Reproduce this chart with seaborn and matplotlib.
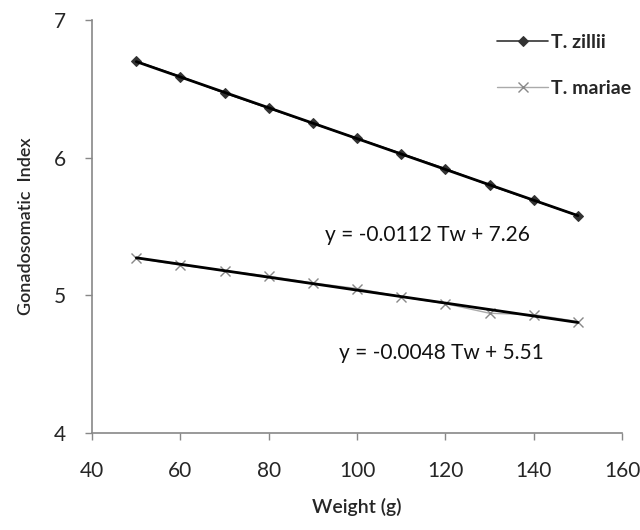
import matplotlib
matplotlib.use("Agg")
import matplotlib.pyplot as plt
import seaborn as sns
import pandas as pd

weight = [50, 60, 70, 80, 90, 100, 110, 120, 130, 140, 150]
zillii = [6.70, 6.59, 6.47, 6.36, 6.25, 6.14, 6.03, 5.92, 5.80, 5.69, 5.58]
mariae = [5.27, 5.22, 5.18, 5.14, 5.09, 5.05, 4.99, 4.94, 4.87, 4.86, 4.81]
series_names = ["T. zillii", "T. mariae"]
eq_zillii = "y = -0.0112 Tw + 7.26"
eq_mariae = "y = -0.0048 Tw + 5.51"
x_ticks = [40, 60, 80, 100, 120, 140, 160]
y_ticks = [4, 5, 6, 7]

sns.set_theme(style="white")
plt.rcParams["font.family"] = ["Lato", "DejaVu Sans"]

df = pd.DataFrame({"Weight": weight, "T. zillii": zillii, "T. mariae": mariae})

fig = plt.figure(figsize=(6.4, 5.3), dpi=100)
ax = fig.add_axes([0.144, 0.183, 0.828, 0.779])

sns.lineplot(data=df, x="Weight", y="T. zillii", ax=ax, color="#333333", lw=1.2,
             marker="D", markersize=5, markeredgecolor="#333333", label=series_names[0])
sns.lineplot(data=df, x="Weight", y="T. mariae", ax=ax, color="#aaaaaa", lw=1.0,
             marker="x", markersize=7, markeredgewidth=1.0, markeredgecolor="#888888",
             label=series_names[1])
sns.regplot(data=df, x="Weight", y="T. zillii", ax=ax, scatter=False, ci=None,
            color="black", line_kws={"lw": 2.0}, truncate=True)
sns.regplot(data=df, x="Weight", y="T. mariae", ax=ax, scatter=False, ci=None,
            color="black", line_kws={"lw": 2.0}, truncate=True)

ax.set_xlim(40, 160)
ax.set_ylim(4, 7)
ax.set_xticks(x_ticks)
ax.set_yticks(y_ticks)
ax.tick_params(axis="both", direction="out", length=5, width=1, color="#888888",
               labelsize=15, bottom=True, left=True)
ax.tick_params(axis="x", pad=15)
ax.tick_params(axis="y", pad=14)
for s in ["top", "right"]:
    ax.spines[s].set_visible(False)
for s in ["left", "bottom"]:
    ax.spines[s].set_color("#888888")
    ax.spines[s].set_linewidth(1.2)

ax.set_xlabel("Weight (g)", fontsize=14, fontweight="semibold", labelpad=12)
ax.set_ylabel("Gonadosomatic  Index", fontsize=13, fontweight="semibold", labelpad=14)

ax.text(116, 5.44, eq_zillii, fontsize=15, ha="center", va="center", color="#111111")
ax.text(119, 4.58, eq_mariae, fontsize=15, ha="center", va="center", color="#111111")

leg = ax.legend(loc="upper right", bbox_to_anchor=(1.05, 1.01), frameon=False,
                labelspacing=1.5, handlelength=2.6, handletextpad=0.15,
                prop={"size": 14, "weight": "bold"})

fig.savefig("out.png", dpi=100)
